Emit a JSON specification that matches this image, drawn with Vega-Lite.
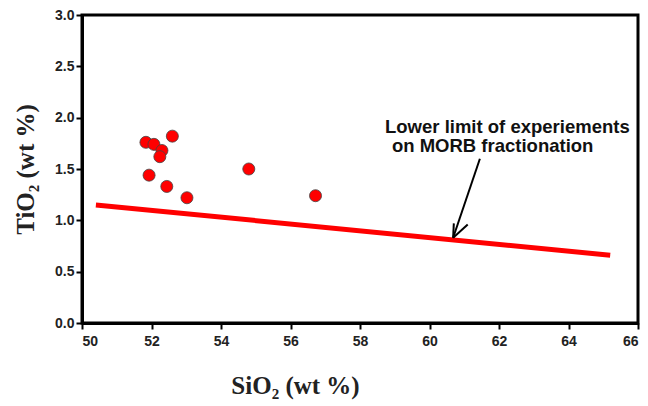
{
  "$schema": "https://vega.github.io/schema/vega-lite/v6.json",
  "width": 556,
  "height": 308,
  "autosize": "none",
  "padding": {"left": 82, "top": 15, "right": 10, "bottom": 83},
  "background": "white",
  "config": {
    "view": {"stroke": "black", "strokeWidth": 3},
    "axis": {
      "grid": false,
      "domainColor": "black",
      "domainWidth": 3,
      "tickColor": "black",
      "tickWidth": 2,
      "tickSize": 6,
      "labelFont": "Liberation Sans",
      "labelFontWeight": "bold",
      "labelFontSize": 14,
      "labelColor": "#222",
      "titleFont": "Liberation Serif",
      "titleFontWeight": "bold",
      "titleFontSize": 25,
      "titleColor": "#222"
    }
  },
  "datasets": {
    "pts": [
      {"SiO2": 51.84, "TiO2": 1.76},
      {"SiO2": 52.07, "TiO2": 1.74},
      {"SiO2": 52.3, "TiO2": 1.68},
      {"SiO2": 52.24, "TiO2": 1.62},
      {"SiO2": 52.6, "TiO2": 1.82},
      {"SiO2": 51.93, "TiO2": 1.44},
      {"SiO2": 52.44, "TiO2": 1.33},
      {"SiO2": 53.02, "TiO2": 1.22},
      {"SiO2": 54.8, "TiO2": 1.5},
      {"SiO2": 56.72, "TiO2": 1.24}
    ],
    "limit": [
      {"SiO2": 50.4, "TiO2": 1.15},
      {"SiO2": 65.2, "TiO2": 0.66}
    ],
    "arrows": [
      {"x": 61.45, "y": 1.6, "x2": 60.68, "y2": 0.83},
      {"x": 60.7, "y": 0.97, "x2": 60.68, "y2": 0.83},
      {"x": 61.1, "y": 0.96, "x2": 60.68, "y2": 0.83}
    ],
    "labels": [
      {"x": 58.72, "y": 1.91, "t": "Lower limit of experiements"},
      {"x": 58.92, "y": 1.72, "t": "on MORB fractionation"}
    ]
  },
  "layer": [
    {
      "data": {"name": "limit"},
      "mark": {"type": "line", "color": "#ff0000", "strokeWidth": 5},
      "encoding": {
        "x": {"field": "SiO2", "type": "quantitative", "scale": {"domain": [50, 66], "nice": false}, "axis": {"values": [50,52,54,56,58,60,62,64,66], "labelPadding": 5, "title": "SiO₂ (wt %)", "titleX": 213, "titleY": 62, "titleBaseline": "middle", "titleAlign": "center"}},
        "y": {"field": "TiO2", "type": "quantitative", "scale": {"domain": [0, 3], "nice": false}, "axis": {"values": [0,0.5,1,1.5,2,2.5,3], "format": ".1f", "title": "TiO₂ (wt %)", "titleX": -57, "titleY": 154, "titleBaseline": "middle", "titleAlign": "center"}}
      }
    },
    {
      "data": {"name": "pts"},
      "mark": {"type": "point", "filled": true, "shape": "circle", "size": 145, "color": "#ff0000", "stroke": "#444", "strokeWidth": 0.8, "opacity": 1},
      "encoding": {
        "x": {"field": "SiO2", "type": "quantitative"},
        "y": {"field": "TiO2", "type": "quantitative"}
      }
    },
    {
      "data": {"name": "arrows"},
      "mark": {"type": "rule", "color": "black", "strokeWidth": 2},
      "encoding": {
        "x": {"field": "x", "type": "quantitative"},
        "y": {"field": "y", "type": "quantitative"},
        "x2": {"field": "x2"},
        "y2": {"field": "y2"}
      }
    },
    {
      "data": {"name": "labels"},
      "mark": {"type": "text", "align": "left", "baseline": "middle", "font": "Liberation Sans", "fontWeight": "bold", "fontSize": 18.5, "color": "#111"},
      "encoding": {
        "x": {"field": "x", "type": "quantitative"},
        "y": {"field": "y", "type": "quantitative"},
        "text": {"field": "t"}
      }
    }
  ]
}
